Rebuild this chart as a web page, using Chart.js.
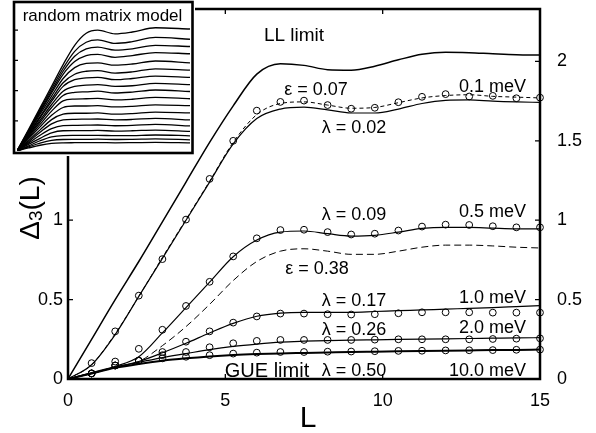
<!DOCTYPE html>
<html><head><meta charset="utf-8">
<script src="https://cdn.jsdelivr.net/npm/chart.js@4.4.1/dist/chart.umd.min.js"></script>
<style>
html,body{margin:0;padding:0;background:#fff;}
#wrap{position:relative;width:596px;height:433px;overflow:hidden;}
#main{position:absolute;left:0;top:0;}
#inset{position:absolute;left:12px;top:0;}
</style></head><body>
<div id="wrap">
<canvas id="main" width="596" height="433" style="width:596px;height:433px"></canvas>
<canvas id="inset" width="183" height="156" style="width:183px;height:156px"></canvas>
</div>
<script>
// ---------- data ----------
const curveL = [0,0.75,1.5,2.25,3,3.75,4.5,5.25,6,6.75,7.5,8.25,9,9.75,10.5,11.25,12,12.75,13.5,14.25,15];
const circleL = [0.75,1.5,2.25,3,3.75,4.5,5.25,6,6.75,7.5,8.25,9,9.75,10.5,11.25,12,12.75,13.5,14.25,15];

const llLimit = [0,0.25,0.5,0.74,0.99,1.24,1.49,1.72,1.92,1.985,1.975,1.948,1.945,1.97,2.01,2.045,2.058,2.055,2.048,2.042,2.04];

const lam002 = [0,0.09,0.28,0.52,0.76,1.0,1.24,1.48,1.64,1.70,1.712,1.695,1.675,1.675,1.70,1.735,1.755,1.758,1.75,1.745,1.742];
const eps007 = [0,0.09,0.285,0.52,0.765,1.005,1.245,1.49,1.665,1.735,1.745,1.725,1.705,1.71,1.74,1.77,1.785,1.79,1.78,1.775,1.77];
const meas01 = [0.10,0.30,0.525,0.755,1.004,1.26,1.50,1.69,1.745,1.753,1.725,1.702,1.708,1.743,1.777,1.794,1.779,1.783,1.768,1.772];

const lam009 = [0,0.04,0.08,0.14,0.29,0.45,0.61,0.77,0.875,0.925,0.932,0.915,0.9,0.905,0.925,0.948,0.955,0.955,0.95,0.946,0.946];
const eps038 = [0,0.035,0.075,0.11,0.21,0.33,0.47,0.62,0.74,0.805,0.82,0.805,0.785,0.785,0.805,0.83,0.843,0.843,0.838,0.83,0.825];
const meas05 = [0.035,0.11,0.19,0.31,0.46,0.612,0.772,0.886,0.938,0.94,0.925,0.91,0.915,0.935,0.96,0.972,0.97,0.962,0.955,0.955];

const lam017 = [0,0.035,0.075,0.11,0.165,0.225,0.29,0.35,0.395,0.415,0.42,0.42,0.42,0.425,0.43,0.435,0.44,0.445,0.45,0.456,0.462];
const meas10 = [0.035,0.085,0.115,0.17,0.235,0.3,0.355,0.394,0.412,0.412,0.408,0.406,0.408,0.414,0.42,0.42,0.42,0.418,0.418,0.418];

const lam026 = [0,0.035,0.075,0.105,0.135,0.16,0.185,0.205,0.22,0.232,0.238,0.242,0.245,0.247,0.249,0.251,0.253,0.255,0.257,0.259,0.26];
const meas20 = [0.035,0.085,0.115,0.15,0.17,0.2,0.225,0.24,0.246,0.246,0.246,0.246,0.248,0.25,0.25,0.25,0.25,0.252,0.254,0.256];

const lam050 = [0,0.035,0.07,0.095,0.115,0.13,0.142,0.151,0.157,0.161,0.164,0.167,0.17,0.172,0.174,0.176,0.178,0.18,0.182,0.183,0.185];
const meas100 = [0.035,0.085,0.115,0.13,0.14,0.15,0.16,0.166,0.17,0.17,0.172,0.173,0.175,0.177,0.178,0.18,0.181,0.182,0.184,0.185];

const xTicks = [0,5,10,15];
const yTicks = [0,0.5,1,1.5,2];

// inset "random matrix model" curves
const insetL = [0,1,2,3,4,5,6,7,8.5,10,12,15];
const insetC01 = [0,0.357,0.714,1.07,1.43,1.75,1.95,2.0,1.94,1.97,2.04,2.02];
const insetC02 = [0,0.34,0.69,1.03,1.37,1.65,1.8,1.84,1.78,1.81,1.88,1.85];
const insetC03 = [0,0.33,0.66,0.99,1.32,1.57,1.69,1.72,1.67,1.69,1.75,1.73];
const insetC04 = [0,0.32,0.64,0.96,1.27,1.48,1.58,1.6,1.55,1.58,1.63,1.61];
const insetC05 = [0,0.30,0.61,0.91,1.2,1.38,1.45,1.46,1.42,1.44,1.49,1.46];
const insetC06 = [0,0.29,0.57,0.86,1.13,1.27,1.32,1.33,1.29,1.31,1.36,1.34];
const insetC07 = [0,0.27,0.55,0.82,1.07,1.18,1.21,1.22,1.18,1.2,1.24,1.22];
const insetC08 = [0,0.26,0.51,0.77,0.99,1.07,1.09,1.1,1.07,1.08,1.12,1.1];
const insetC09 = [0,0.24,0.48,0.72,0.92,0.97,0.98,0.99,0.96,0.975,1.01,0.985];
const insetC10 = [0,0.22,0.44,0.66,0.83,0.86,0.865,0.87,0.845,0.857,0.887,0.865];
const insetC11 = [0,0.2,0.4,0.59,0.72,0.745,0.745,0.75,0.73,0.74,0.765,0.75];
const insetC12 = [0,0.17,0.35,0.52,0.61,0.625,0.625,0.63,0.61,0.62,0.645,0.63];
const insetC13 = [0,0.15,0.31,0.45,0.515,0.525,0.527,0.53,0.515,0.522,0.54,0.515];
const insetC14 = [0,0.13,0.26,0.37,0.42,0.425,0.427,0.43,0.418,0.424,0.44,0.415];
const insetC15 = [0,0.11,0.21,0.3,0.335,0.337,0.338,0.34,0.33,0.335,0.347,0.325];
const insetC16 = [0,0.084,0.17,0.235,0.256,0.258,0.259,0.26,0.253,0.256,0.265,0.252];
const insetC17 = [0,0.067,0.13,0.175,0.19,0.192,0.193,0.195,0.19,0.193,0.2,0.185];
const insetC18 = [0,0.05,0.095,0.125,0.135,0.137,0.138,0.14,0.136,0.138,0.142,0.135];

// ---------- helpers ----------
const FONT = "'Liberation Sans', Arial, Helvetica, sans-serif";
Chart.defaults.font.family = FONT;
Chart.defaults.color = '#000';

function pts(xs, ys){ return ys.map((v,i)=>({x:xs[i], y:v})); }
function lineDS(ys, extra){
  return Object.assign({data:pts(curveL, ys), borderColor:'#000', borderWidth:1.2, pointRadius:0,
    cubicInterpolationMode:'monotone', fill:false}, extra||{});
}
function circDS(ys){
  return {data:pts(circleL, ys), showLine:false, pointRadius:3.4, pointStyle:'circle',
    pointBorderColor:'#000', pointBackgroundColor:'rgba(0,0,0,0)', pointBorderWidth:1, clip:false};
}

const labels = [
  {t:'LL limit', x:294, y:36, a:'center', s:19},
  {t:'\u03b5 = 0.07', x:316, y:90, a:'center', s:18},
  {t:'0.1 meV', x:526, y:87, a:'right', s:18},
  {t:'\u03bb = 0.02', x:354, y:128, a:'center', s:18},
  {t:'\u03bb = 0.09', x:354, y:215, a:'center', s:18},
  {t:'0.5 meV', x:526, y:212, a:'right', s:18},
  {t:'\u03b5 = 0.38', x:317, y:269, a:'center', s:18},
  {t:'\u03bb = 0.17', x:354, y:301, a:'center', s:18},
  {t:'1.0 meV', x:526, y:298, a:'right', s:18},
  {t:'\u03bb = 0.26', x:354, y:330, a:'center', s:18},
  {t:'2.0 meV', x:526, y:328, a:'right', s:18},
  {t:'GUE limit', x:267, y:371, a:'center', s:20},
  {t:'\u03bb = 0.50', x:354, y:371, a:'center', s:18},
  {t:'10.0 meV', x:526, y:371, a:'right', s:18}
];

const framePlugin = {
  id:'frame',
  afterDraw(chart){
    const {ctx, chartArea:a, scales} = chart;
    const xs = scales.x, ys = scales.y;
    ctx.save();
    ctx.strokeStyle = '#000';
    ctx.lineWidth = 2.5;
    ctx.strokeRect(a.left, a.top, a.right - a.left, a.bottom - a.top);
    ctx.lineWidth = 1.3;
    ctx.beginPath();
    xTicks.slice(1,-1).forEach(v=>{
      const px = xs.getPixelForValue(v);
      ctx.moveTo(px, a.bottom); ctx.lineTo(px, a.bottom - 5);
      ctx.moveTo(px, a.top); ctx.lineTo(px, a.top + 5);
    });
    yTicks.slice(1).forEach(v=>{
      const py = ys.getPixelForValue(v);
      ctx.moveTo(a.left, py); ctx.lineTo(a.left + 5, py);
      ctx.moveTo(a.right, py); ctx.lineTo(a.right - 5, py);
    });
    ctx.stroke();
    ctx.fillStyle = '#000';
    ctx.textBaseline = 'middle';
    labels.forEach(l=>{
      ctx.font = l.s + 'px ' + FONT;
      ctx.textAlign = l.a;
      ctx.fillText(l.t, l.x, l.y);
    });
    // x-axis title
    ctx.font = '30px ' + FONT;
    ctx.textAlign = 'center';
    ctx.fillText('L', 308, 419);
    // y-axis title Δ3(L), rotated
    ctx.save();
    ctx.translate(31, 208);
    ctx.rotate(-Math.PI/2);
    const big = '28px ' + FONT, small = '19px ' + FONT;
    ctx.font = big; const w1 = ctx.measureText('\u0394').width; const w3 = ctx.measureText('(L)').width;
    ctx.font = small; const w2 = ctx.measureText('3').width;
    let x0 = -(w1 + w2 + w3)/2;
    ctx.textAlign = 'left';
    ctx.font = big; ctx.fillText('\u0394', x0, 0);
    ctx.font = small; ctx.fillText('3', x0 + w1, 6);
    ctx.font = big; ctx.fillText('(L)', x0 + w1 + w2, 0);
    ctx.restore();
    ctx.restore();
  }
};

function setYTicks(scale){ scale.ticks = yTicks.map(v=>({value:v})); }
function noPad(s){ s.paddingTop = 0; s.paddingBottom = 0; s.paddingLeft = 0; s.paddingRight = 0; }
const fmt = v => String(v);

new Chart(document.getElementById('main'), {
  type:'line',
  data:{datasets:[
    lineDS(llLimit, {borderWidth:1.5}),
    lineDS(lam002),
    lineDS(eps007, {borderDash:[4,3], borderWidth:1}),
    circDS(meas01),
    lineDS(lam009),
    lineDS(eps038, {borderDash:[7,4], borderWidth:1}),
    circDS(meas05),
    lineDS(lam017),
    circDS(meas10),
    lineDS(lam026),
    circDS(meas20),
    lineDS(lam050, {borderWidth:2}),
    circDS(meas100)
  ]},
  options:{
    responsive:false, animation:false, devicePixelRatio:1,
    layout:{padding:{top:9, left:0, right:0, bottom:0}},
    plugins:{legend:{display:false}, tooltip:{enabled:false}},
    scales:{
      x:{type:'linear', position:'bottom', min:0, max:15,
        grid:{display:false, drawTicks:false}, border:{display:false},
        afterBuildTicks(s){ s.ticks = xTicks.map(v=>({value:v})); },
        ticks:{color:'#000', font:{size:18, family:FONT}, padding:11, maxRotation:0, autoSkip:false, callback:fmt},
        afterFit(s){ s.height = 54; noPad(s); }},
      y:{type:'linear', position:'left', min:0, max:2.33,
        grid:{display:false, drawTicks:false}, border:{display:false},
        afterBuildTicks:setYTicks,
        ticks:{color:'#000', font:{size:18, family:FONT}, padding:5, autoSkip:false, callback:fmt},
        afterFit(s){ s.width = 68; noPad(s); }},
      y2:{type:'linear', position:'right', min:0, max:2.33,
        grid:{display:false, drawTicks:false}, border:{display:false},
        afterBuildTicks:setYTicks,
        ticks:{color:'#000', font:{size:18, family:FONT}, padding:17, autoSkip:false, callback:fmt},
        afterFit(s){ s.width = 56; noPad(s); }}
    }
  },
  plugins:[framePlugin]
});

// ---------- inset ----------
const insetCurves = [insetC01,insetC02,insetC03,insetC04,insetC05,insetC06,insetC07,insetC08,insetC09,
  insetC10,insetC11,insetC12,insetC13,insetC14,insetC15,insetC16,insetC17,insetC18];

const insetPlugin = {
  id:'insetFrame',
  beforeDraw(chart){
    const ctx = chart.ctx;
    ctx.save(); ctx.fillStyle = '#fff'; ctx.fillRect(0,0,chart.width,chart.height); ctx.restore();
  },
  afterDraw(chart){
    const {ctx, chartArea:a, scales} = chart;
    ctx.save();
    ctx.strokeStyle = '#000';
    ctx.lineWidth = 1.2;
    ctx.beginPath();
    [0.5,1,1.5,2].forEach(v=>{
      const py = scales.y.getPixelForValue(v);
      ctx.moveTo(2, py); ctx.lineTo(6, py);
    });
    ctx.stroke();
    ctx.lineWidth = 2.6;
    ctx.strokeRect(2, 2, 178.5, 151);
    ctx.fillStyle = '#000';
    ctx.font = '17px ' + FONT;
    ctx.textAlign = 'center';
    ctx.textBaseline = 'middle';
    ctx.fillText('random matrix model', 90.5, 16);
    ctx.restore();
  }
};

new Chart(document.getElementById('inset'), {
  type:'line',
  data:{datasets: insetCurves.map(c=>({data:pts(insetL, c), borderColor:'#000', borderWidth:1.3,
    pointRadius:0, cubicInterpolationMode:'monotone', fill:false}))},
  options:{
    responsive:false, animation:false, devicePixelRatio:1,
    layout:{padding:{top:3, left:5, right:5, bottom:5}},
    plugins:{legend:{display:false}, tooltip:{enabled:false}},
    scales:{
      x:{type:'linear', min:0, max:15, display:false},
      y:{type:'linear', min:0, max:2.45, display:false}
    }
  },
  plugins:[insetPlugin]
});
</script>
</body></html>
